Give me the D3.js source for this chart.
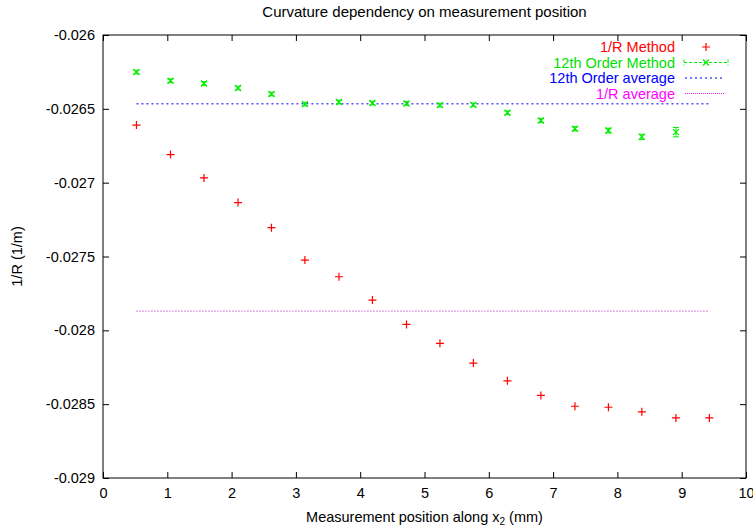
<!DOCTYPE html>
<html>
<head>
<meta charset="utf-8">
<script src="https://cdn.jsdelivr.net/npm/d3@7"></script>
<style>
    body { margin: 0; background: white; }
    svg text { font-family: "Liberation Sans", Arial, sans-serif; }
</style>
</head>
<body>
<svg id="chart" width="753" height="531"></svg>
<script>
// measurement positions (mm)
var positions = [0.52, 1.05, 1.57, 2.10, 2.62, 3.14, 3.67, 4.19, 4.72, 5.24,
                 5.76, 6.29, 6.81, 7.34, 7.86, 8.38, 8.91, 9.43];

var rMethod = [-0.02661, -0.02681, -0.026968, -0.027135, -0.027305, -0.027524,
               -0.027637, -0.027795, -0.02796, -0.028088, -0.028222, -0.028342,
               -0.028441, -0.028514, -0.028521, -0.028552, -0.028593, -0.028593];

var orderMethod = [-0.026251, -0.02631, -0.026328, -0.026359, -0.0264, -0.026468,
                   -0.026454, -0.026461, -0.026464, -0.026475, -0.026473, -0.026527,
                   -0.026579, -0.026635, -0.026647, -0.02669, -0.026658];
var orderError = [0.000012, 0.000012, 0.000012, 0.000012, 0.000012, 0.000012,
                  0.000012, 0.000012, 0.000012, 0.000012, 0.000012, 0.000012,
                  0.000014, 0.000014, 0.000016, 0.000018, 0.000032];

var orderAverage = -0.026466;
var rAverage = -0.02787;

var xTicks = [0, 1, 2, 3, 4, 5, 6, 7, 8, 9, 10];
var yTicks = [-0.026, -0.0265, -0.027, -0.0275, -0.028, -0.0285, -0.029];

var legendLabels = ['1/R Method', '12th Order Method', '12th Order average', '1/R average'];
var legendColors = ['#ff0000', '#00e000', '#0000ff', '#ff00ff'];

var svg = d3.select('#chart');
// note: "top" is a reserved window property, so use plot* names
var plotLeft = 103, plotRight = 746, plotTop = 35, plotBottom = 478;
var fontSize = 14.5;

var x = d3.scaleLinear().domain([0, 10]).range([plotLeft, plotRight]);
var y = d3.scaleLinear().domain([-0.029, -0.026]).range([plotBottom, plotTop]);

// frame
svg.append('rect')
    .attr('x', plotLeft).attr('y', plotTop)
    .attr('width', plotRight - plotLeft).attr('height', plotBottom - plotTop)
    .attr('fill', 'none').attr('stroke', 'black').attr('stroke-width', 1);

function axisStyle(g)
{
    g.select('.domain').remove();
    g.selectAll('line').attr('stroke', 'black');
    g.selectAll('text').attr('font-size', fontSize).attr('fill', 'black');
}

svg.append('g')
    .attr('transform', 'translate(0,' + plotBottom + ')')
    .call(d3.axisBottom(x).tickValues(xTicks).tickSize(-6).tickPadding(10).tickFormat(d3.format('d')))
    .call(axisStyle);
svg.append('g')
    .attr('transform', 'translate(0,' + plotTop + ')')
    .call(d3.axisTop(x).tickValues(xTicks).tickSize(-6).tickFormat(''))
    .call(axisStyle);
svg.append('g')
    .attr('transform', 'translate(' + plotLeft + ',0)')
    .call(d3.axisLeft(y).tickValues(yTicks).tickSize(-6).tickPadding(8).tickFormat(function(d) { return String(+d.toFixed(5)); }))
    .call(axisStyle);
svg.append('g')
    .attr('transform', 'translate(' + plotRight + ',0)')
    .call(d3.axisRight(y).tickValues(yTicks).tickSize(-6).tickFormat(''))
    .call(axisStyle);

// titles
svg.append('text')
    .attr('x', (plotLeft + plotRight) / 2).attr('y', 17)
    .attr('text-anchor', 'middle').attr('font-size', 15)
    .text('Curvature dependency on measurement position');

var xl = svg.append('text')
    .attr('x', (plotLeft + plotRight) / 2).attr('y', 522)
    .attr('text-anchor', 'middle').attr('font-size', fontSize);
xl.append('tspan').text('Measurement position along x');
xl.append('tspan').attr('font-size', 10).attr('dy', 3).text('2');
xl.append('tspan').attr('dy', -3).text(' (mm)');

svg.append('text')
    .attr('transform', 'translate(22,' + ((plotTop + plotBottom) / 2) + ') rotate(-90)')
    .attr('text-anchor', 'middle').attr('font-size', fontSize)
    .text('1/R (1/m)');

// average lines
var first = positions[0], last = positions[positions.length - 1];
svg.append('line')
    .attr('x1', x(first)).attr('x2', x(last))
    .attr('y1', y(orderAverage)).attr('y2', y(orderAverage))
    .attr('stroke', '#5050ff').attr('stroke-width', 1.5).attr('stroke-dasharray', '2,3');
svg.append('line')
    .attr('x1', x(first)).attr('x2', x(last))
    .attr('y1', y(rAverage)).attr('y2', y(rAverage))
    .attr('stroke', '#b000b0').attr('stroke-width', 1).attr('stroke-dasharray', '1,2');

// 1/R method points
function plus(g, cx, cy, color)
{
    g.append('path')
        .attr('d', 'M' + (cx - 4) + ',' + cy + 'H' + (cx + 4) + 'M' + cx + ',' + (cy - 4) + 'V' + (cy + 4))
        .attr('stroke', color).attr('stroke-width', 1.2).attr('fill', 'none');
}
var redG = svg.append('g');
rMethod.forEach(function(v, i)
{
    plus(redG, x(positions[i]), y(v), '#ff0000');
});

// 12th order points with error bars
function cross(g, cx, cy, color)
{
    g.append('path')
        .attr('d', 'M' + (cx - 3) + ',' + (cy - 3) + 'L' + (cx + 3) + ',' + (cy + 3) +
                   'M' + (cx - 3) + ',' + (cy + 3) + 'L' + (cx + 3) + ',' + (cy - 3))
        .attr('stroke', color).attr('stroke-width', 1.3).attr('fill', 'none');
}
var greenG = svg.append('g');
orderMethod.forEach(function(v, i)
{
    var cx = x(positions[i]);
    var y1 = y(v - orderError[i]), y2 = y(v + orderError[i]);
    greenG.append('path')
        .attr('d', 'M' + cx + ',' + y1 + 'V' + y2 +
                   'M' + (cx - 3) + ',' + y1 + 'H' + (cx + 3) +
                   'M' + (cx - 3) + ',' + y2 + 'H' + (cx + 3))
        .attr('stroke', '#00ee00').attr('stroke-width', 1).attr('fill', 'none');
    cross(greenG, cx, y(v), '#00ee00');
});

// legend
var legend = svg.append('g');
legendLabels.forEach(function(label, i)
{
    var ly = 47 + i * 15.5;
    legend.append('text')
        .attr('x', 675).attr('y', ly + 5)
        .attr('text-anchor', 'end').attr('font-size', fontSize)
        .attr('fill', legendColors[i])
        .text(label);
    if (i == 0)
    {
        plus(legend, 706, ly, '#ff0000');
    }
    else if (i == 1)
    {
        legend.append('path')
            .attr('d', 'M684,' + ly + 'H728M684,' + (ly - 3) + 'V' + (ly + 3) + 'M728,' + (ly - 3) + 'V' + (ly + 3))
            .attr('stroke', '#00ee00').attr('stroke-width', 1).attr('stroke-dasharray', '3,2').attr('fill', 'none');
        cross(legend, 706, ly, '#00ee00');
    }
    else if (i == 2)
    {
        legend.append('line')
            .attr('x1', 685).attr('x2', 725).attr('y1', ly).attr('y2', ly)
            .attr('stroke', '#5050ff').attr('stroke-width', 1.5).attr('stroke-dasharray', '2,3');
    }
    else
    {
        legend.append('line')
            .attr('x1', 685).attr('x2', 725).attr('y1', ly).attr('y2', ly)
            .attr('stroke', '#e020e0').attr('stroke-width', 1).attr('stroke-dasharray', '1,1');
    }
});
</script>
</body>
</html>
